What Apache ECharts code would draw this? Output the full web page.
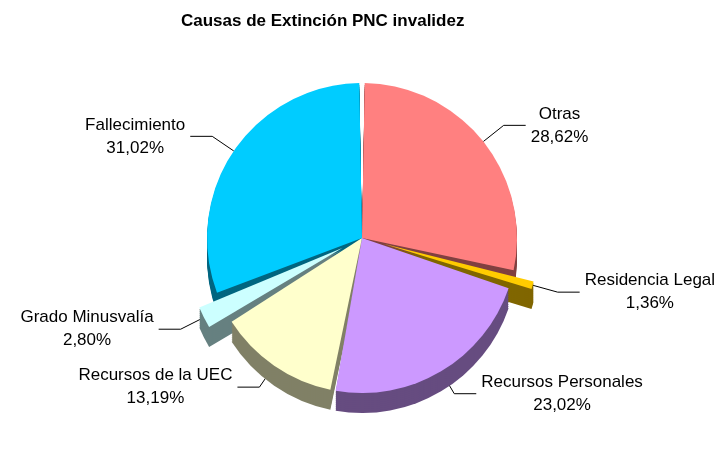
<!DOCTYPE html>
<html>
<head>
<meta charset="utf-8" />
<script src="https://cdn.jsdelivr.net/npm/echarts@6/dist/echarts.min.js"></script>
<title>Causas de Extinción PNC invalidez</title>
</head>
<body style="margin:0">
<div id="main" style="width:715px;height:470px;"></div>
<script type="text/javascript">
// datos del gráfico
var causas = ['Otras', 'Residencia Legal', 'Recursos Personales', 'Recursos de la UEC', 'Grado Minusvalía', 'Fallecimiento'];
var porcentajes = [28.62, 1.36, 23.02, 13.19, 2.80, 31.02];
var destacados = ['Residencia Legal', 'Grado Minusvalía'];

var colores = ['#FF8080', '#FFCC00', '#CC99FF', '#FFFFCC', '#CCFFFF', '#00CCFF'];
var coloresLado = ['#804040', '#806600', '#664C80', '#808066', '#668080', '#006680'];

var font = '"Liberation Sans Narrow", "Liberation Sans", Arial, sans-serif';
var cx = 362, cy = 238, radio = 155, fondo = 20;

function datos(cols) {
  return causas.map(function (c, i) {
    return {
      name: c,
      value: porcentajes[i],
      selected: destacados.indexOf(c) >= 0,
      itemStyle: { color: cols[i] }
    };
  });
}

var series = [];
// capas inferiores para simular el grosor 3D
for (var d = fondo; d > 0; d -= 2) {
  series.push({
    type: 'pie',
    silent: true,
    center: [cx, cy + d],
    radius: radio,
    padAngle: 2,
    selectedMode: 'multiple',
    selectedOffset: 22,
    label: { show: false },
    labelLine: { show: false },
    emphasis: { disabled: true },
    data: datos(coloresLado)
  });
}
// cara superior con etiquetas
series.push({
  type: 'pie',
  center: [cx, cy],
  radius: radio,
  padAngle: 2,
  selectedMode: 'multiple',
  selectedOffset: 22,
  label: {
    show: true,
    color: '#000',
    fontFamily: font,
    fontSize: 17,
    formatter: function (p) {
      return '{t|' + p.name + '}\n{t|' + p.value.toFixed(2).replace('.', ',') + '%}';
    },
    rich: {
      t: { align: 'center', fontFamily: font, fontSize: 17, lineHeight: 23, color: '#000' }
    }
  },
  labelLine: {
    show: true,
    length: 26,
    length2: 22,
    lineStyle: { color: '#000', width: 1 }
  },
  emphasis: { disabled: true },
  data: datos(colores)
});

var myChart = echarts.init(document.getElementById('main'));
myChart.setOption({
  animation: false,
  backgroundColor: '#fff',
  title: {
    text: 'Causas de Extinción PNC invalidez',
    left: 176,
    top: 8,
    textStyle: { fontFamily: font, fontSize: 17, fontWeight: 'bold', color: '#000' }
  },
  series: series
});
</script>
</body>
</html>
